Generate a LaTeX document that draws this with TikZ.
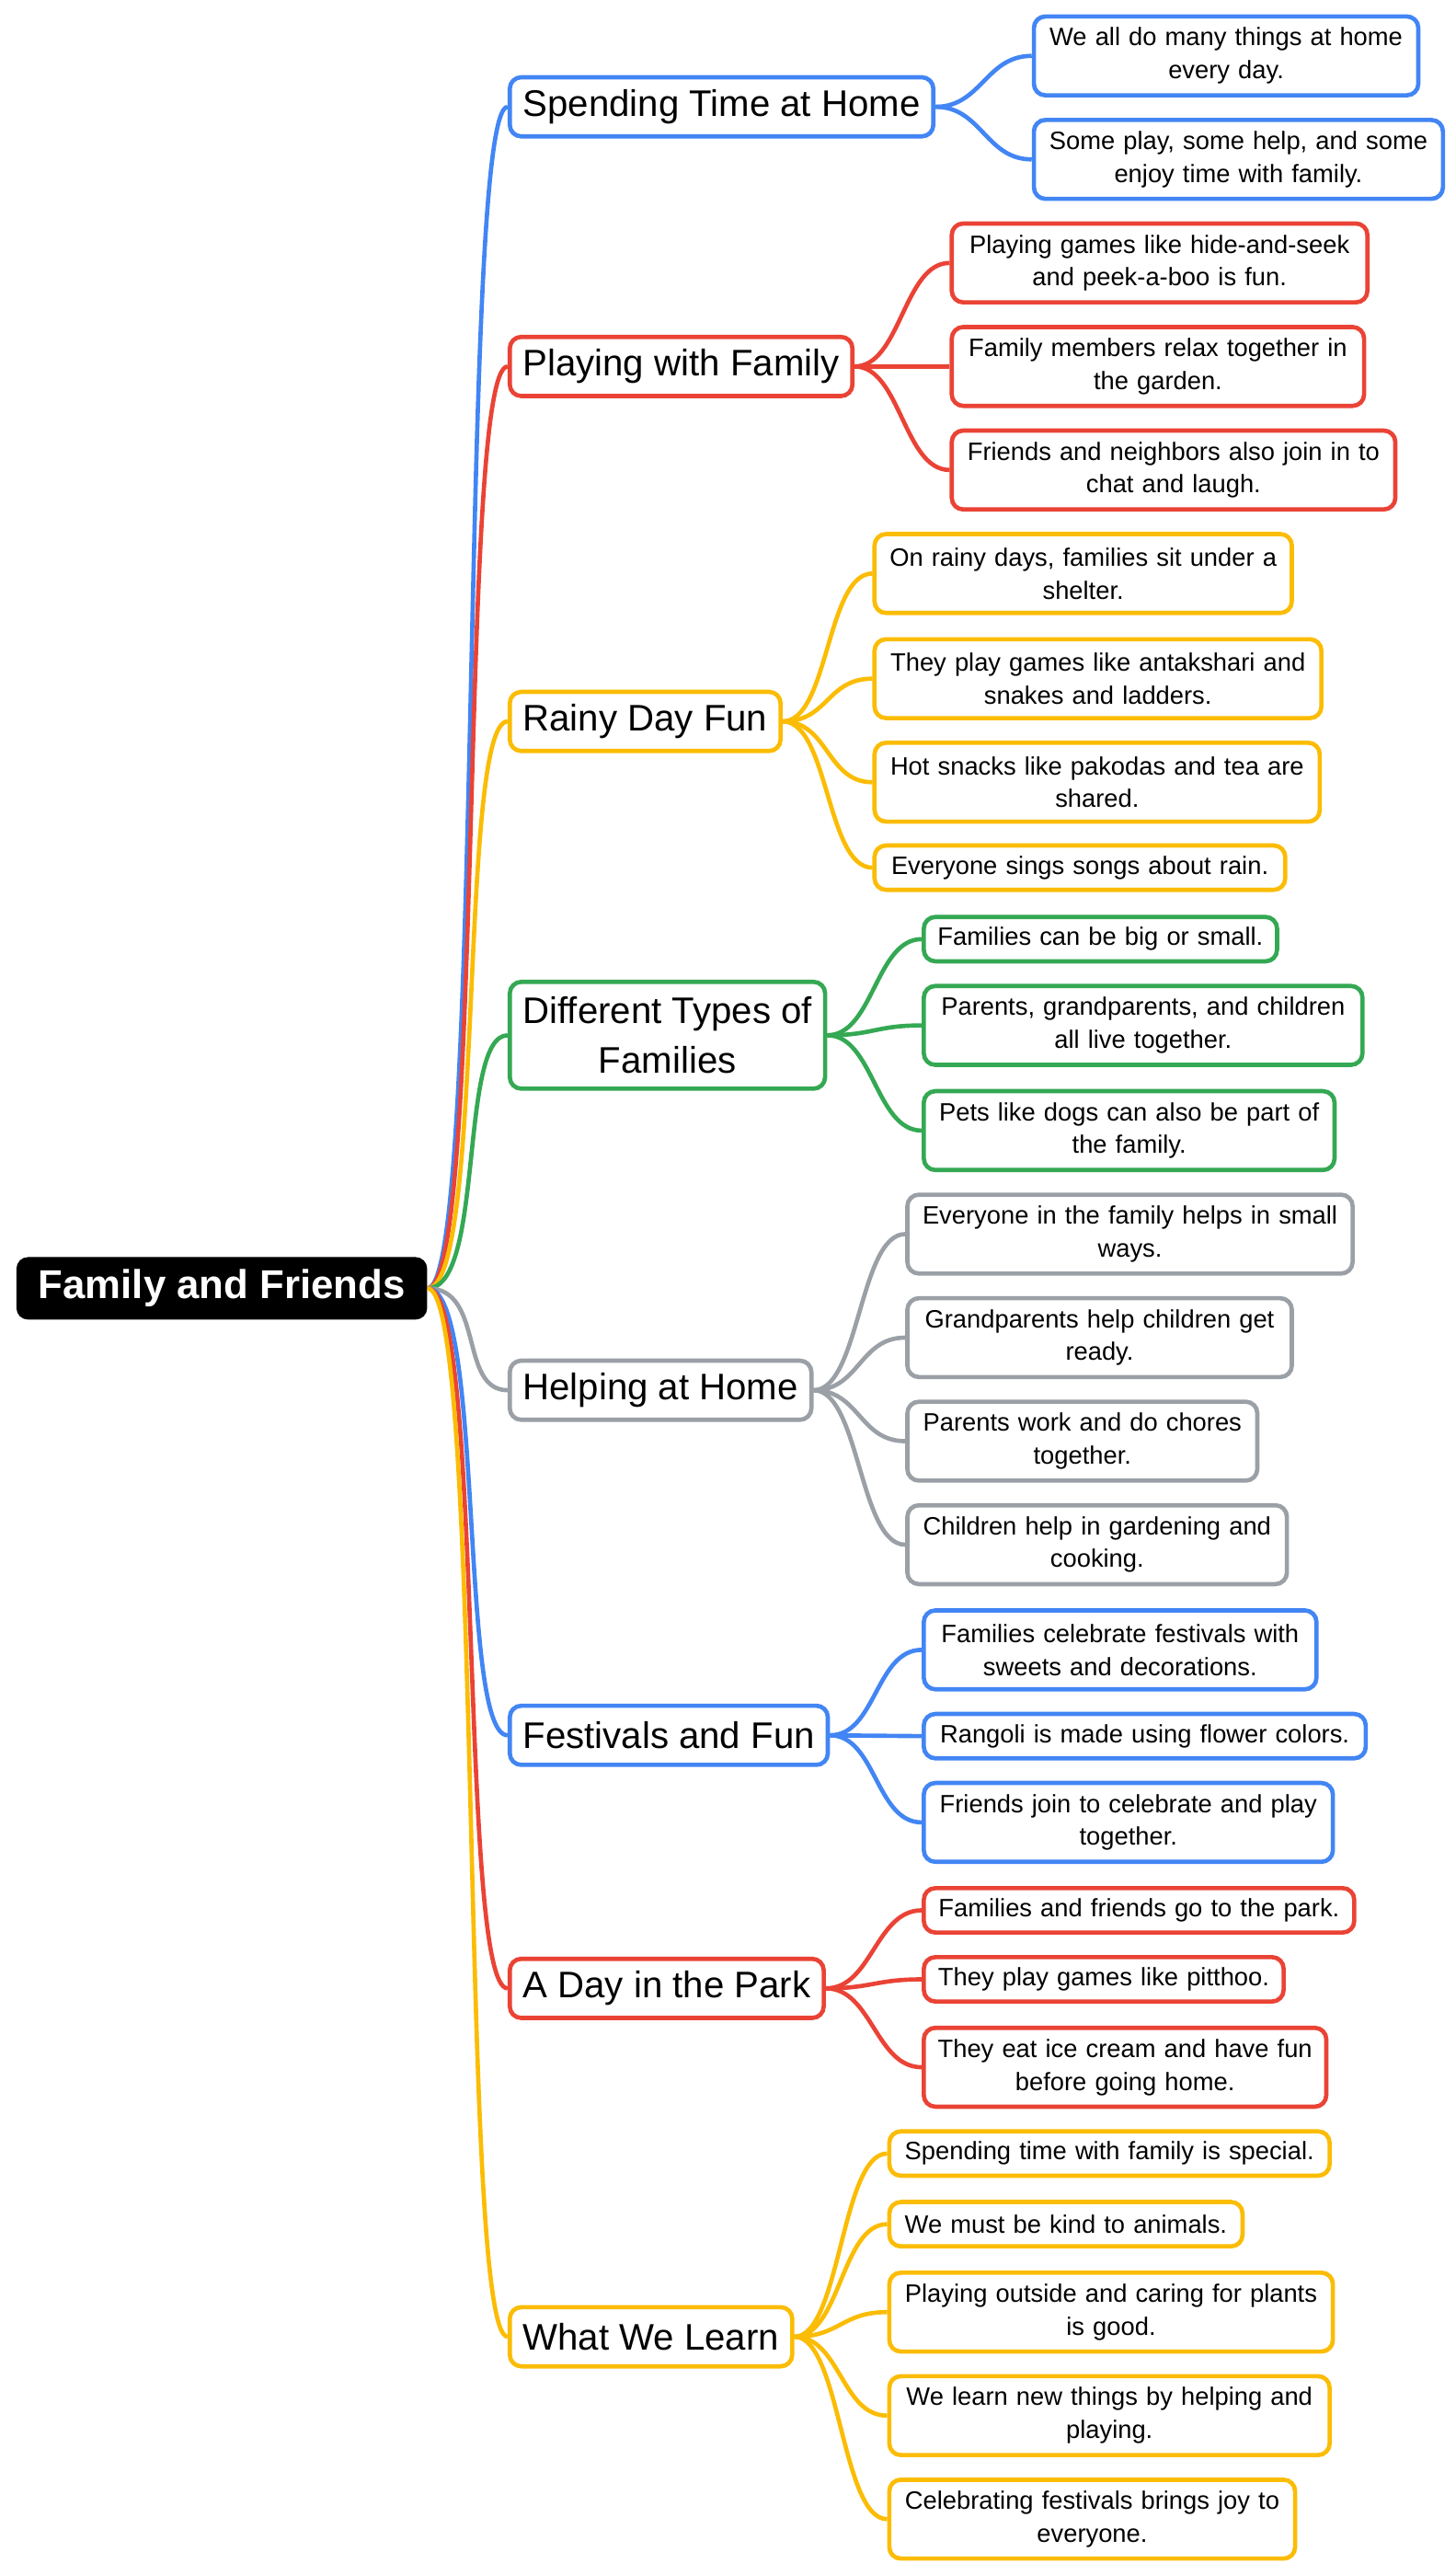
\documentclass[tikz,border=0pt]{standalone}
\usepackage{fontspec}
\setmainfont{Liberation Sans}
\definecolor{cb}{HTML}{4285F4}
\definecolor{cr}{HTML}{EA4335}
\definecolor{cy}{HTML}{FBBC04}
\definecolor{cg}{HTML}{34A853}
\definecolor{cgr}{HTML}{9AA0A6}
\tikzset{
 base/.style={draw,line width=2.6pt,rounded corners=7pt,fill=white,align=center},
 topic/.style={base,draw=#1,anchor=west,minimum height=36pt,inner xsep=8pt,font=\fontsize{22.5}{30}\selectfont},
 leafbox/.style={base,draw=#1,anchor=west,inner xsep=0pt,inner ysep=0pt,font=\fontsize{15.3}{20}\selectfont},
 link/.style={draw=#1,line width=2.6pt}
}
\newcommand{\lf}[7]{\node[leafbox=#1,minimum height=#6pt,text width=#4pt] (#2) at (#3,#5) {#7};
 \draw[link=#1] (T\curtopic.east) .. controls +(28,0) and +(-28,0) .. (#2.west);}
\begin{document}
\begin{tikzpicture}[x=1pt,y=-1pt]
\useasboundingbox (0,0) rectangle (886,1567);
\node[fill=black,text=white,rounded corners=7pt,minimum width=250pt,minimum height=38pt,font=\fontsize{24.5}{28}\selectfont\bfseries] (R) at (135,784) {Family and Friends};
\node[topic=cb] (T1) at (309,65) {Spending Time at Home};
\node[topic=cr] (T2) at (309,223) {Playing with Family};
\node[topic=cy] (T3) at (309,439) {Rainy Day Fun};
\node[topic=cg,minimum height=65pt] (T4) at (309,630) {Different Types of\\Families};
\node[topic=cgr] (T5) at (309,846) {Helping at Home};
\node[topic=cb] (T6) at (309,1056) {Festivals and Fun};
\node[topic=cr] (T7) at (309,1210) {A Day in the Park};
\node[topic=cy] (T8) at (309,1422) {What We Learn};
\foreach \t/\c in {1/cb,2/cr,3/cy,4/cg,5/cgr,6/cb,7/cr,8/cy}
 \draw[link=\c] (R.east) .. controls +(35,0) and +(-30,0) .. (T\t.west);
\def\curtopic{1}
\lf{cb}{a1}{628}{234}{34}{48}{We all do many things at home\\every day.}
\lf{cb}{a2}{628}{249}{97}{48}{Some play, some help, and some\\enjoy time with family.}
\def\curtopic{2}
\lf{cr}{b1}{578}{253}{160}{48}{Playing games like hide-and-seek\\and peek-a-boo is fun.}
\lf{cr}{b2}{578}{251}{223}{48}{Family members relax together in\\the garden.}
\lf{cr}{b3}{578}{270}{286}{48}{Friends and neighbors also join in to\\chat and laugh.}
\def\curtopic{3}
\lf{cy}{c1}{531}{254}{349}{48}{On rainy days, families sit under a\\shelter.}
\lf{cy}{c2}{531}{272}{413}{48}{They play games like antakshari and\\snakes and ladders.}
\lf{cy}{c3}{531}{271}{476}{48}{Hot snacks like pakodas and tea are\\shared.}
\lf{cy}{c4}{531}{250}{528}{27}{Everyone sings songs about rain.}
\def\curtopic{4}
\lf{cg}{d1}{561}{215}{571.5}{27}{Families can be big or small.}
\lf{cg}{d2}{561}{267}{624}{48}{Parents, grandparents, and children\\all live together.}
\lf{cg}{d3}{561}{250}{688}{48}{Pets like dogs can also be part of\\the family.}
\def\curtopic{5}
\lf{cgr}{e1}{551}{271}{751}{48}{Everyone in the family helps in small\\ways.}
\lf{cgr}{e2}{551}{234}{814}{48}{Grandparents help children get\\ready.}
\lf{cgr}{e3}{551}{213}{877}{48}{Parents work and do chores\\together.}
\lf{cgr}{e4}{551}{231}{940}{48}{Children help in gardening and\\cooking.}
\def\curtopic{6}
\lf{cb}{f1}{561}{239}{1004}{48}{Families celebrate festivals with\\sweets and decorations.}
\lf{cb}{f2}{561}{269}{1056.5}{27}{Rangoli is made using flower colors.}
\lf{cb}{f3}{561}{249}{1109}{48}{Friends join to celebrate and play\\together.}
\def\curtopic{7}
\lf{cr}{g1}{561}{262}{1162.5}{27}{Families and friends go to the park.}
\lf{cr}{g2}{561}{219}{1204.5}{27}{They play games like pitthoo.}
\lf{cr}{g3}{561}{245}{1258}{48}{They eat ice cream and have fun\\before going home.}
\def\curtopic{8}
\lf{cy}{h1}{540}{268}{1310.5}{27}{Spending time with family is special.}
\lf{cy}{h2}{540}{215}{1353.5}{27}{We must be kind to animals.}
\lf{cy}{h3}{540}{270}{1407}{48}{Playing outside and caring for plants\\is good.}
\lf{cy}{h4}{540}{268}{1470}{48}{We learn new things by helping and\\playing.}
\lf{cy}{h5}{540}{247}{1533}{48}{Celebrating festivals brings joy to\\everyone.}
\end{tikzpicture}
\end{document}
